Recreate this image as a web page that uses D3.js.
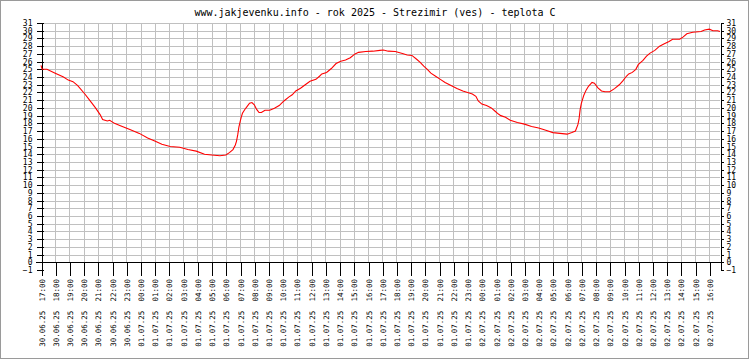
<!DOCTYPE html>
<html><head><meta charset="utf-8">
<script src="https://cdn.jsdelivr.net/npm/d3@7"></script>
<style>
body{margin:0;background:#fff}
svg{display:block}
text{font-family:"DejaVu Sans Mono",monospace;fill:#000}
</style>
</head><body>
<svg id="c" width="750" height="360"></svg>
<script>
const title = "www.jakjevenku.info - rok 2025 - Strezimir (ves) - teplota C";
const year = "2025";
const domainStart = "30.06 17:00";
const domainEnd = "02.07 16:45";
const yTickValues = d3.range(-1, 32);
const times = [
"30.06 17:00","30.06 17:05","30.06 17:25","30.06 18:00","30.06 18:35","30.06 18:55","30.06 19:15","30.06 19:35",
"30.06 20:05","30.06 20:25","30.06 20:50","30.06 21:10","30.06 21:20","30.06 21:40","30.06 21:50","30.06 22:10",
"30.06 22:35","30.06 23:15","30.06 23:55","01.07 00:30","01.07 01:00","01.07 01:30","01.07 02:05","01.07 02:45",
"01.07 03:20","01.07 03:55","01.07 04:30","01.07 05:00","01.07 05:35","01.07 06:00","01.07 06:15","01.07 06:30",
"01.07 06:40","01.07 06:45","01.07 06:50","01.07 06:55","01.07 07:00","01.07 07:05","01.07 07:10","01.07 07:20",
"01.07 07:30","01.07 07:40","01.07 07:50","01.07 08:00","01.07 08:10","01.07 08:20","01.07 08:30","01.07 08:45",
"01.07 09:05","01.07 09:25","01.07 09:45","01.07 10:05","01.07 10:25","01.07 10:40","01.07 10:55","01.07 11:15",
"01.07 11:35","01.07 11:55","01.07 12:20","01.07 12:35","01.07 12:45","01.07 13:05","01.07 13:25","01.07 13:45",
"01.07 14:05","01.07 14:25","01.07 14:45","01.07 15:05","01.07 15:20","01.07 15:50","01.07 16:20","01.07 16:50",
"01.07 17:05","01.07 17:25","01.07 17:55","01.07 18:25","01.07 18:45","01.07 19:05","01.07 19:25","01.07 19:40",
"01.07 19:55","01.07 20:10","01.07 20:25","01.07 20:45","01.07 21:05","01.07 21:25","01.07 21:50","01.07 22:15",
"01.07 22:40","01.07 23:00","01.07 23:20","01.07 23:35","01.07 23:45","02.07 00:00","02.07 00:20","02.07 00:40",
"02.07 00:55","02.07 01:10","02.07 01:20","02.07 01:40","02.07 02:00","02.07 02:30","02.07 03:00","02.07 03:30",
"02.07 04:00","02.07 04:30","02.07 05:00","02.07 05:30","02.07 06:00","02.07 06:20","02.07 06:35","02.07 06:45",
"02.07 06:50","02.07 06:55","02.07 07:00","02.07 07:05","02.07 07:10","02.07 07:20","02.07 07:30","02.07 07:45",
"02.07 07:55","02.07 08:10","02.07 08:25","02.07 08:40","02.07 09:00","02.07 09:20","02.07 09:40","02.07 09:55",
"02.07 10:10","02.07 10:20","02.07 10:35","02.07 10:50","02.07 11:00","02.07 11:20","02.07 11:35","02.07 11:50",
"02.07 12:10","02.07 12:30","02.07 12:50","02.07 13:10","02.07 13:25","02.07 13:55","02.07 14:10","02.07 14:25",
"02.07 14:50","02.07 15:25","02.07 15:40","02.07 16:00","02.07 16:15","02.07 16:35","02.07 16:45"
];
const temps = [
25.5,25.0,25.0,24.5,24.0,23.6,23.4,22.9,
21.8,21.0,20.0,19.1,18.5,18.3,18.4,18.0,
17.7,17.2,16.7,16.1,15.7,15.3,15.0,14.9,
14.6,14.4,14.0,13.9,13.8,13.9,14.2,14.6,
15.2,15.7,16.5,17.5,18.2,18.8,19.3,19.8,
20.2,20.6,20.7,20.4,19.8,19.4,19.4,19.7,
19.7,19.95,20.3,20.9,21.4,21.7,22.2,22.55,
23.0,23.45,23.7,24.1,24.4,24.6,25.1,25.75,
26.05,26.2,26.5,27.0,27.2,27.3,27.35,27.45,
27.5,27.35,27.3,27.05,26.85,26.8,26.3,25.9,
25.4,25.0,24.5,24.1,23.7,23.3,22.9,22.5,
22.2,22.0,21.8,21.5,20.9,20.5,20.3,20.0,
19.6,19.2,19.0,18.8,18.4,18.1,17.9,17.6,
17.4,17.1,16.8,16.7,16.6,16.8,17.0,17.8,
18.5,19.8,20.6,21.1,21.6,22.3,22.8,23.3,
23.2,22.6,22.2,22.1,22.1,22.5,23.0,23.5,
24.1,24.4,24.6,25.0,25.6,26.15,26.7,27.1,
27.45,28.0,28.3,28.6,28.9,28.9,29.2,29.6,
29.8,29.9,30.1,30.2,30.0,30.0,29.9
];

const parse = d3.timeParse("%d.%m.%Y %H:%M");
const toDate = s => parse(s.replace(" ", "." + year + " "));
const data = times.map((t, i) => ({t: toDate(t), v: temps[i]}));

const L = 41, R = 720, T = 23, B = 270;
const x = d3.scaleTime().domain([toDate(domainStart), toDate(domainEnd)]).range([L, R]);
const y = d3.scaleLinear().domain([-1, 31]).range([B, T]);
const hours = d3.timeHour.every(1).range(x.domain()[0], d3.timeMinute.offset(x.domain()[1], 1));

const svg = d3.select("#c");
svg.append("rect").attr("x", 0.5).attr("y", 0.5).attr("width", 748).attr("height", 358)
  .attr("fill", "#fff").attr("stroke", "#9a9a9a");

svg.append("text").attr("x", 375).attr("y", 16).attr("text-anchor", "middle")
  .style("font-size", "10px").text(title);

const snap = v => Math.round(v) + 0.5;

// horizontal grid
const gridY = svg.append("g").attr("shape-rendering", "crispEdges");
gridY.selectAll("line").data(yTickValues.filter(v => v > 0)).join("line")
  .attr("x1", L).attr("x2", R).attr("y1", d => snap(y(d))).attr("y2", d => snap(y(d)))
  .attr("stroke", "#c0c0c0");
// vertical grid
const gridX = svg.append("g").attr("shape-rendering", "crispEdges");
gridX.selectAll("line").data(hours.slice(1)).join("line")
  .attr("x1", d => snap(x(d))).attr("x2", d => snap(x(d)))
  .attr("y1", snap(y(31))).attr("y2", snap(y(0)))
  .attr("stroke", "#c0c0c0");

// bottom axis at zero with hourly ticks
const fmt = d3.timeFormat("%d.%m.%y  %H:%M");
const xAxis = svg.append("g").attr("transform", `translate(0.5,${snap(y(0))})`)
  .attr("shape-rendering", "crispEdges")
  .call(d3.axisBottom(x).tickValues(hours).tickSize(13).tickSizeOuter(0).tickFormat(fmt));
xAxis.select(".domain").remove();
xAxis.selectAll(".tick line").attr("stroke", "#000").attr("x1", -0.5).attr("x2", -0.5).attr("transform", "translate(0.5,0)");
xAxis.selectAll(".tick text")
  .attr("x", 0).attr("y", 0).attr("dy", 0)
  .attr("text-anchor", "end")
  .attr("transform", `translate(2.5,${279 - snap(y(0))}) rotate(-90)`)
  .attr("xml:space", "preserve").style("white-space", "pre")
  .style("font-size", "7.5px").attr("font-family", null);

// zero line
svg.append("line").attr("shape-rendering", "crispEdges")
  .attr("x1", L - 5).attr("x2", R + 3).attr("y1", snap(y(0))).attr("y2", snap(y(0)))
  .attr("stroke", "#000");

// left axis
const yl = svg.append("g").attr("transform", `translate(${L + 0.5},0.5)`)
  .attr("shape-rendering", "crispEdges")
  .call(d3.axisLeft(y).tickValues(yTickValues).tickSize(5).tickPadding(4).tickSizeOuter(0).tickFormat(d3.format("d")));
yl.select(".domain").attr("stroke", "#000");
yl.selectAll(".tick line").attr("x2", -5).attr("x1", 2).attr("stroke", "#000");
yl.selectAll(".tick text").attr("dy", "0.34em").style("font-size", "8px").attr("font-family", null);
yl.selectAll(".tick").attr("transform", d => `translate(0,${Math.round(y(d))})`);

// right axis
const yr = svg.append("g").attr("transform", `translate(${R + 0.5},0.5)`)
  .attr("shape-rendering", "crispEdges")
  .call(d3.axisRight(y).tickValues(yTickValues).tickSize(3).tickPadding(3).tickSizeOuter(0).tickFormat(d3.format("d")));
yr.select(".domain").attr("stroke", "#000");
yr.selectAll(".tick line").attr("stroke", "#000");
yr.selectAll(".tick text").attr("dy", "0.34em").style("font-size", "8px").attr("font-family", null);
yr.selectAll(".tick").attr("transform", d => `translate(0,${Math.round(y(d))})`);

// data line
svg.append("path").datum(data)
  .attr("fill", "none").attr("stroke", "#ff0000").attr("stroke-width", 1.1)
  .attr("d", d3.line().x(d => x(d.t)).y(d => y(d.v)));
</script>
</body></html>
